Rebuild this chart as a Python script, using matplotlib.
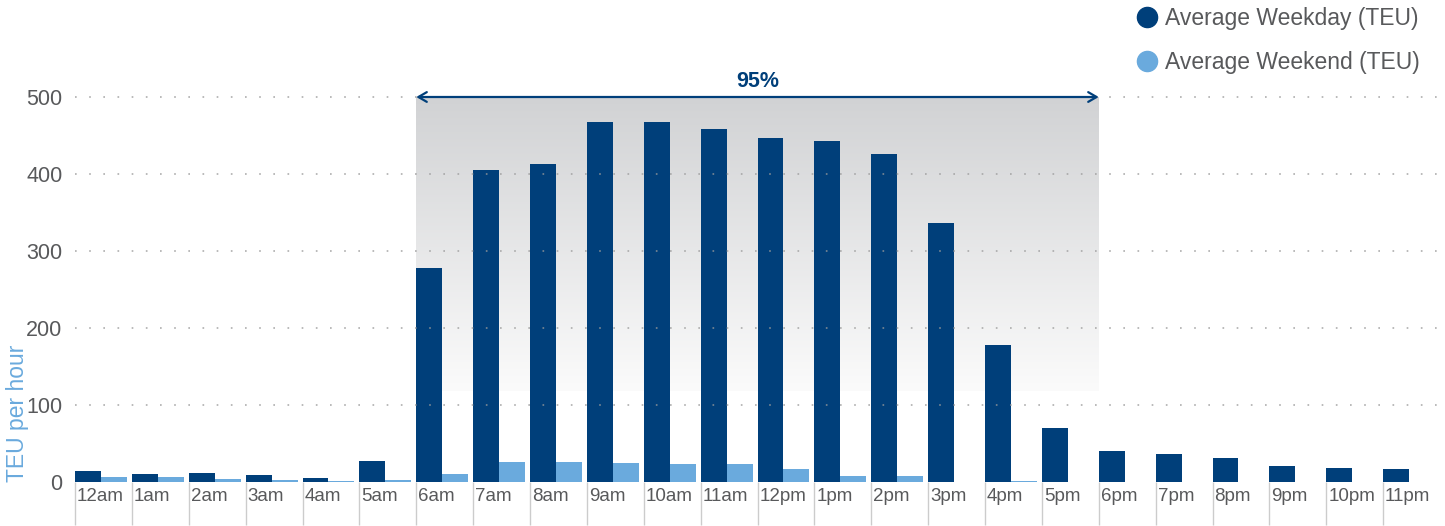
import numpy as np
import matplotlib
matplotlib.use("Agg")
import matplotlib.pyplot as plt
from matplotlib.colors import LinearSegmentedColormap

categories = ["12am", "1am", "2am", "3am", "4am", "5am", "6am", "7am", "8am", "9am",
              "10am", "11am", "12pm", "1pm", "2pm", "3pm", "4pm", "5pm", "6pm", "7pm",
              "8pm", "9pm", "10pm", "11pm"]
weekday = [14, 10, 12, 9, 5, 27, 278, 405, 413, 467, 467, 458, 447, 443, 426, 336,
           178, 70, 40, 36, 31, 21, 18, 17]
weekend = [6.5, 6, 4, 3, 1, 3, 10, 26, 26, 25, 23, 23, 17, 8, 8, 0, 1, 0, 0, 0, 0, 0, 0, 0]
yticks = [0, 100, 200, 300, 400, 500]
band_start, band_end = 6, 18
band_label = "95%"
legend_labels = ["Average Weekday (TEU)", "Average Weekend (TEU)"]

DARK = "#003f7a"
LIGHT = "#6aaadd"
TXT = "#58595b"
FONT = "Liberation Sans"
plt.rcParams["font.family"] = [FONT, "DejaVu Sans"]

W, H = 1445, 526
fig = plt.figure(figsize=(W / 100, H / 100), dpi=100)
left, right = 75 / W, 1440 / W
bottom, top = (H - 482) / H, (H - 97) / H
ax = fig.add_axes([left, bottom, right - left, top - bottom])

x = np.arange(len(categories))
bw = 0.457
ax.bar(x, weekday, width=bw, align="edge", color=DARK, zorder=2)
ax.bar(x + bw, weekend, width=bw, align="edge", color=LIGHT, zorder=2)

# gradient band
cmap = LinearSegmentedColormap.from_list("g", ["#fbfbfb", "#d1d2d4"])
grad = np.linspace(0, 1, 256).reshape(-1, 1)
ax.imshow(grad, extent=[band_start, band_end, 118, 500], origin="lower",
          cmap=cmap, aspect="auto", zorder=0, interpolation="bicubic")

ax.set_xlim(0, len(categories))
ax.set_ylim(0, 500)

# grid
for yv in yticks[1:]:
    ax.axhline(yv, color="#9a9a9a", lw=1.2, ls=(0, (1, 7.5)), zorder=3, alpha=0.8,
               clip_on=False)

# arrow
ax.annotate("", xy=(band_start, 500), xytext=(band_end, 500),
            arrowprops=dict(arrowstyle="<->,head_length=0.6,head_width=0.35",
                            color=DARK, lw=1.6, shrinkA=0, shrinkB=0),
            annotation_clip=False, zorder=5)
ax.text((band_start + band_end) / 2, 507, band_label, ha="center", va="bottom",
        fontsize=15.5, fontweight="bold", color=DARK)

for s in ax.spines.values():
    s.set_visible(False)

ax.set_yticks(yticks)
ax.set_yticklabels([str(v) for v in yticks], fontsize=15.5, color=TXT)
ax.tick_params(axis="y", length=0, pad=9)

ax.set_xticks(x)
ax.set_xticklabels(categories, fontsize=13.5, color=TXT, ha="left")
ax.tick_params(axis="x", length=31, width=1, color="#cccccc", pad=-27,
               direction="out")
for lbl in ax.get_xticklabels():
    lbl.set_transform(lbl.get_transform() + matplotlib.transforms.ScaledTranslation(2 / 100, 0, fig.dpi_scale_trans))

fig.text(18 / W, (H - 482) / H, "TEU per hour", rotation=90, ha="center", va="bottom",
         fontsize=16.5, color=LIGHT)

# legend
for i, (lab, col) in enumerate(zip(legend_labels, [DARK, LIGHT])):
    yc = (H - (17 + 44 * i)) / H
    fig.lines.append(plt.Line2D([1147 / W], [yc], marker="o", markersize=14.5,
                                color=col, transform=fig.transFigure, linestyle="none"))
    fig.text(1165 / W, yc - 1.5 / H, lab, ha="left", va="center", fontsize=16.5, color=TXT)

fig.savefig("out.png", dpi=100)
